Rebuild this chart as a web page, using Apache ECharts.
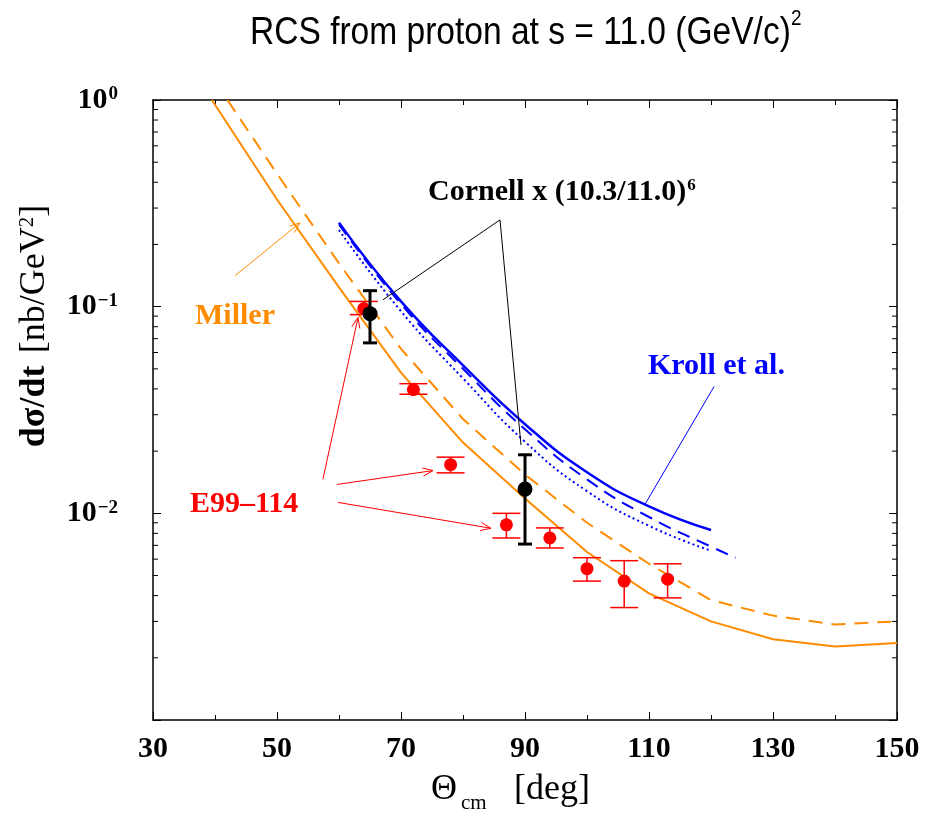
<!DOCTYPE html>
<html><head><meta charset="utf-8">
<script src="https://cdn.jsdelivr.net/npm/echarts@6/dist/echarts.min.js"></script>
<style>html,body{margin:0;padding:0;background:#fff}#c{width:925px;height:815px}</style>
</head><body><div id="c"></div>
<script>
// ---- data ----
const millerSolidX = [39.5, 50, 60, 70, 80, 90, 100, 110, 120, 130, 140, 150];
const millerSolid  = [1.0, 0.33, 0.124, 0.048, 0.022, 0.0118, 0.0065, 0.0041, 0.0030, 0.00246, 0.00227, 0.00236];
const millerDashedX = [42, 50, 60, 70, 80, 90, 100, 110, 120, 130, 140, 150];
const millerDashed  = [1.0, 0.44, 0.162, 0.0625, 0.0286, 0.0154, 0.0090, 0.0057, 0.0038, 0.0032, 0.0029, 0.0030];
const krollX = [60, 70, 80, 90, 100, 110, 120];
const krollSolid = [0.255, 0.106, 0.052, 0.027, 0.0158, 0.0108, 0.0083];
const krollDotted = [0.235, 0.095, 0.045, 0.0222, 0.0128, 0.0087, 0.0066];
const krollDashedX = [60, 70, 80, 90, 100, 110, 120, 124];
const krollDashed = [0.25, 0.103, 0.050, 0.0255, 0.0146, 0.0096, 0.0069, 0.0061];
const e99X  = [64, 72, 78, 87, 94, 100, 106, 113];
const e99Y  = [0.098, 0.0397, 0.0172, 0.0088, 0.0076, 0.0054, 0.0047, 0.0048];
const e99Lo = [0.0915, 0.0377, 0.0157, 0.0076, 0.0068, 0.0047, 0.0035, 0.0039];
const e99Hi = [0.106, 0.0424, 0.0187, 0.0100, 0.0085, 0.0061, 0.0059, 0.0057];
const cornellX  = [65, 90];
const cornellY  = [0.0925, 0.0131];
const cornellLo = [0.0668, 0.0071];
const cornellHi = [0.1195, 0.0192];
const yMinorTicks = [0.002,0.003,0.004,0.005,0.006,0.007,0.008,0.009,
                     0.02,0.03,0.04,0.05,0.06,0.07,0.08,0.09,
                     0.2,0.3,0.4,0.5,0.6,0.7,0.8,0.9];
// annotation pointers in data coordinates: [x1, y1, x2, y2]
const cornellPointers = [[85.97, 0.263, 67.1, 0.108], [85.97, 0.263, 89.35, 0.0214]];
const millerPointer = [[43.2, 0.141, 53.7, 0.2545]];
const krollPointer = [[120.5, 0.0411, 109.35, 0.01105]];
const e99Pointers = [[57.4, 0.0146, 63.06, 0.0885], [59.7, 0.0138, 75.16, 0.0161], [59.8, 0.0113, 84.5, 0.00847]];

const SERIF = "'Liberation Serif','Times New Roman',serif";
const SANS = "'Liberation Sans',Arial,sans-serif";
const ORANGE = '#ff8c00', BLUE = '#0000ff', RED = '#ff0000';

const chart = echarts.init(document.getElementById('c'), null, {renderer: 'canvas'});

function pairs(xs, ys) { return xs.map((x, i) => [x, ys[i]]); }

function errRender(color, capHalf, width) {
  return function (params, api) {
    const x = api.value(0);
    const lo = api.coord([x, api.value(1)]);
    const hi = api.coord([x, api.value(2)]);
    const st = {stroke: color, lineWidth: width};
    return {type: 'group', children: [
      {type: 'line', shape: {x1: lo[0], y1: lo[1], x2: hi[0], y2: hi[1]}, style: st},
      {type: 'line', shape: {x1: lo[0] - capHalf, y1: lo[1], x2: lo[0] + capHalf, y2: lo[1]}, style: st},
      {type: 'line', shape: {x1: hi[0] - capHalf, y1: hi[1], x2: hi[0] + capHalf, y2: hi[1]}, style: st}
    ]};
  };
}

function pointerRender(color, head) {
  return function (params, api) {
    const a = api.coord([api.value(0), api.value(1)]);
    const b = api.coord([api.value(2), api.value(3)]);
    const st = {stroke: color, lineWidth: 1};
    const ch = [{type: 'line', shape: {x1: a[0], y1: a[1], x2: b[0], y2: b[1]}, style: st}];
    if (head) {
      const ang = Math.atan2(b[1] - a[1], b[0] - a[0]);
      const L = 11, s = 0.38;
      [ang + Math.PI - s, ang + Math.PI + s].forEach(t => {
        ch.push({type: 'line', shape: {x1: b[0], y1: b[1], x2: b[0] + L * Math.cos(t), y2: b[1] + L * Math.sin(t)}, style: st});
      });
    }
    return {type: 'group', children: ch};
  };
}

function minorTickRender(params, api) {
  const v = api.value(1);
  const l = api.coord([30, v]);
  const r = api.coord([150, v]);
  const st = {stroke: '#000', lineWidth: 1};
  return {type: 'group', children: [
    {type: 'line', shape: {x1: l[0], y1: l[1], x2: l[0] + 5, y2: l[1]}, style: st},
    {type: 'line', shape: {x1: r[0], y1: r[1], x2: r[0] - 5, y2: r[1]}, style: st}
  ]};
}

const axisLineStyle = {color: '#000', width: 1.5};
const xAxisBase = {
  type: 'value', min: 30, max: 150, interval: 20,
  axisLine: {show: true, onZero: false, lineStyle: axisLineStyle},
  axisTick: {show: true, inside: true, length: 8, lineStyle: {color: '#000', width: 1}},
  minorTick: {show: true, splitNumber: 2, length: 5, lineStyle: {color: '#000', width: 1}},
  splitLine: {show: false}, minorSplitLine: {show: false}
};
const yAxisBase = {
  type: 'log', logBase: 10, min: 0.001, max: 1,
  axisLine: {show: true, onZero: false, lineStyle: axisLineStyle},
  axisTick: {show: true, inside: true, length: 8, lineStyle: {color: '#000', width: 1}},
  splitLine: {show: false}
};

const option = {
  animation: false,
  backgroundColor: '#fff',
  grid: {left: 153, right: 28, top: 100, bottom: 95, containLabel: false},
  xAxis: [
    Object.assign({}, xAxisBase, {position: 'bottom',
      axisLabel: {show: true, margin: 14, color: '#000', fontFamily: SERIF, fontWeight: 'bold', fontSize: 30}}),
    Object.assign({}, xAxisBase, {position: 'top', axisLabel: {show: false}})
  ],
  yAxis: [
    Object.assign({}, yAxisBase, {position: 'left',
      axisLabel: {show: true, margin: 35, color: '#000',
        formatter: function (v) {
          const e = Math.round(Math.log10(v));
          if (e === -3) return '';
          return '{b|10}{s|' + (e < 0 ? '\u2212' + (-e) : String(e)) + '}';
        },
        rich: {
          b: {fontFamily: SERIF, fontWeight: 'bold', fontSize: 30, color: '#000', lineHeight: 30},
          s: {fontFamily: SERIF, fontWeight: 'bold', fontSize: 19, color: '#000', verticalAlign: 'top', lineHeight: 19, padding: [0, 0, 14, 1]}
        }}}),
    Object.assign({}, yAxisBase, {position: 'right', axisLabel: {show: false}})
  ],
  series: [
    {type: 'custom', name: 'yminor', renderItem: minorTickRender, data: yMinorTicks.map(v => [30, v]),
     encode: {x: 0, y: 1}, clip: false, silent: true, z: 1},
    {type: 'line', name: 'Miller', data: pairs(millerSolidX, millerSolid), showSymbol: false, symbol: 'none',
     lineStyle: {color: ORANGE, width: 2}, clip: true, z: 2},
    {type: 'line', name: 'Miller dashed', data: pairs(millerDashedX, millerDashed), showSymbol: false, symbol: 'none',
     lineStyle: {color: ORANGE, width: 2, type: [14, 9]}, clip: true, z: 2},
    {type: 'line', name: 'Kroll solid', data: pairs(krollX, krollSolid), smooth: true, showSymbol: false, symbol: 'none',
     lineStyle: {color: BLUE, width: 2.5}, z: 2},
    {type: 'line', name: 'Kroll dashed', data: pairs(krollDashedX, krollDashed), smooth: true, showSymbol: false, symbol: 'none',
     lineStyle: {color: BLUE, width: 2, type: [13, 8]}, z: 2},
    {type: 'line', name: 'Kroll dotted', data: pairs(krollX, krollDotted), smooth: true, showSymbol: false, symbol: 'none',
     lineStyle: {color: BLUE, width: 2, type: [2, 3]}, z: 2},
    {type: 'custom', name: 'pointers cornell', renderItem: pointerRender('#000', false), data: cornellPointers,
     encode: {x: [0, 2], y: [1, 3]}, clip: false, z: 3},
    {type: 'custom', name: 'pointer miller', renderItem: pointerRender(ORANGE, true), data: millerPointer,
     encode: {x: [0, 2], y: [1, 3]}, clip: false, z: 3},
    {type: 'custom', name: 'pointer kroll', renderItem: pointerRender(BLUE, false), data: krollPointer,
     encode: {x: [0, 2], y: [1, 3]}, clip: false, z: 3},
    {type: 'custom', name: 'pointers e99', renderItem: pointerRender(RED, true), data: e99Pointers,
     encode: {x: [0, 2], y: [1, 3]}, clip: false, z: 3},
    {type: 'custom', name: 'E99 errors', renderItem: errRender(RED, 14, 1.5),
     data: e99X.map((x, i) => [x, e99Lo[i], e99Hi[i]]), encode: {x: 0, y: [1, 2]}, z: 4},
    {type: 'scatter', name: 'E99-114', data: pairs(e99X, e99Y), symbol: 'circle', symbolSize: 13,
     itemStyle: {color: RED, opacity: 1}, z: 5},
    {type: 'custom', name: 'Cornell errors', renderItem: errRender('#000', 7, 3),
     data: cornellX.map((x, i) => [x, cornellLo[i], cornellHi[i]]), encode: {x: 0, y: [1, 2]}, z: 6},
    {type: 'scatter', name: 'Cornell', data: pairs(cornellX, cornellY), symbol: 'circle', symbolSize: 15,
     itemStyle: {color: '#000', opacity: 1}, z: 7}
  ],
  graphic: [
    {type: 'text', x: 250, y: 33, scaleX: 0.86, style: {
      text: 'RCS from proton at s = 11.0 (GeV/c)', fill: '#000', font: '39px ' + SANS,
      textAlign: 'left', textVerticalAlign: 'middle'}},
    {type: 'text', x: 791, y: 19, scaleX: 0.86, style: {
      text: '2', fill: '#000', font: '22px ' + SANS,
      textAlign: 'left', textVerticalAlign: 'middle'}},
    {type: 'text', x: 431, y: 790, style: {text: '\u0398', fill: '#000', font: '36px ' + SERIF,
      textAlign: 'left', textVerticalAlign: 'middle'}},
    {type: 'text', x: 461, y: 803, style: {text: 'cm', fill: '#000', font: '21px ' + SERIF,
      textAlign: 'left', textVerticalAlign: 'middle'}},
    {type: 'text', x: 514, y: 790, style: {text: '[deg]', fill: '#000', font: '36px ' + SERIF,
      textAlign: 'left', textVerticalAlign: 'middle'}},
    {type: 'text', x: 35, y: 326, rotation: Math.PI / 2, style: {
      text: '{b|d\u03c3/dt} {r| [nb/GeV}{s|2}{r|]}',
      textAlign: 'center', textVerticalAlign: 'middle',
      rich: {
        b: {fontFamily: SERIF, fontWeight: 'bold', fontSize: 36, fill: '#000', lineHeight: 36},
        r: {fontFamily: SERIF, fontSize: 36, fill: '#000', lineHeight: 36},
        s: {fontFamily: SERIF, fontSize: 21, fill: '#000', verticalAlign: 'top', lineHeight: 21, padding: [0, 0, 15, 0]}
      }}},
    {type: 'text', x: 428, y: 192, style: {
      text: '{t|Cornell x (10.3/11.0)}{s|6}', textAlign: 'left', textVerticalAlign: 'middle',
      rich: {
        t: {fontFamily: SERIF, fontWeight: 'bold', fontSize: 30, fill: '#000', lineHeight: 30},
        s: {fontFamily: SERIF, fontWeight: 'bold', fontSize: 17, fill: '#000', verticalAlign: 'top', lineHeight: 17, padding: [0, 0, 18, 1]}
      }}},
    {type: 'text', x: 195, y: 316, style: {text: 'Miller', fill: ORANGE, font: 'bold 30px ' + SERIF,
      textAlign: 'left', textVerticalAlign: 'middle'}},
    {type: 'text', x: 648, y: 366, style: {text: 'Kroll et al.', fill: BLUE, font: 'bold 30px ' + SERIF,
      textAlign: 'left', textVerticalAlign: 'middle'}},
    {type: 'text', x: 190, y: 504, style: {text: 'E99\u2013114', fill: RED, font: 'bold 30px ' + SERIF,
      textAlign: 'left', textVerticalAlign: 'middle'}}
  ]
};
chart.setOption(option);
</script></body></html>
